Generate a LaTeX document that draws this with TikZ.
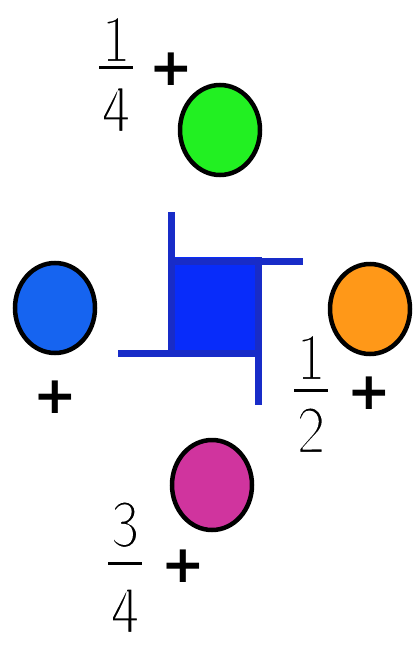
\documentclass[tikz,border=0pt]{standalone}
\usepackage{fontspec}
\newfontfamily\plusfont{DejaVu Sans}
\usetikzlibrary{shapes.geometric}
\definecolor{cgreen}{RGB}{34,240,34}
\definecolor{cblue}{RGB}{22,100,240}
\definecolor{corange}{RGB}{255,152,24}
\definecolor{cmag}{RGB}{208,52,158}
\definecolor{sqfill}{RGB}{8,44,250}
\definecolor{sqline}{RGB}{24,44,200}
\newcommand{\thindigit}[1]{\special{pdf:literal direct 2 Tr 1 1 1 RG 2.2 w}#1\special{pdf:literal direct 0 Tr}}
\tikzset{
  ball/.style={ellipse, draw=black, line width=4.5pt, minimum width=80pt, minimum height=90pt, inner sep=0pt},
  plusmk/.style={inner sep=0pt, font=\plusfont\bfseries\fontsize{52}{52}\selectfont},
  digit/.style={inner sep=0pt, anchor=base, xscale=0.92, font=\sffamily\fontsize{68}{68}\selectfont},
  fbar/.style={fill=black, inner sep=0pt, minimum width=34pt, minimum height=3pt},
  arm/.style={draw=sqline, line width=7pt}
}
\begin{document}
\begin{tikzpicture}[x=1pt,y=-1pt]
\useasboundingbox[fill=white] (0,0) rectangle (414,645);
% balls
\node[ball, fill=cgreen] (green) at (220,130) {};
\node[ball, fill=cblue] (blue) at (55,308) {};
\node[ball, fill=corange] (orange) at (370,309) {};
\node[ball, fill=cmag] (mag) at (212,485) {};
% plus marks
\node[plusmk] (pg) at (171,69) {+};
\node[plusmk] (pb) at (55,397) {+};
\node[plusmk] (po) at (369,393) {+};
\node[plusmk] (pm) at (183,566) {+};
% fractions
\node[fbar] (bq) at (116,67) {};
\node[digit] (nq) at (116,62) {\thindigit{1}};
\node[digit] (dq) at (116,132) {\thindigit{4}};
\node[fbar] (bh) at (311,390) {};
\node[digit] (nh) at (311,380) {\thindigit{1}};
\node[digit] (dh) at (311,453) {\thindigit{2}};
\node[fbar] (bt) at (125,563) {};
\node[digit] (nt) at (125,547) {\thindigit{3}};
\node[digit] (dt) at (125,633) {\thindigit{4}};
% blue pinwheel square
\fill[sqfill] (168,257) rectangle (260,355);
\draw[arm] (171,212) -- (171,355);
\draw[arm] (168,261) -- (303,261);
\draw[arm] (118,353) -- (260,353);
\draw[arm] (258,257) -- (258,405);
\end{tikzpicture}
\end{document}
